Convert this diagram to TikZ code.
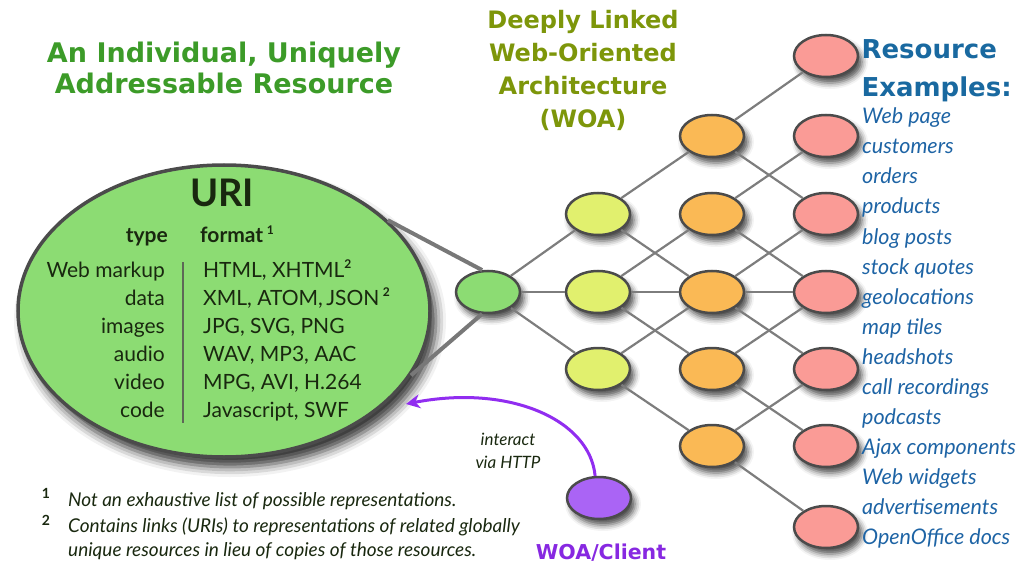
\documentclass[tikz,border=0pt]{standalone}
\usepackage{fontspec}
\setmainfont{Lato}
\newfontfamily\headfont{DejaVu Sans}
\usetikzlibrary{shapes.geometric,shadows.blur,arrows.meta}

\definecolor{uriGreen}{RGB}{140,220,115}
\definecolor{nodeYellow}{RGB}{225,240,110}
\definecolor{nodeOrange}{RGB}{250,185,85}
\definecolor{nodePink}{RGB}{250,155,150}
\definecolor{nodePurple}{RGB}{170,100,245}
\definecolor{rimGray}{RGB}{75,75,75}
\definecolor{linkGray}{RGB}{125,125,125}
\definecolor{coneGray}{RGB}{120,120,120}
\definecolor{titleGreen}{RGB}{60,155,40}
\definecolor{woaOlive}{RGB}{125,150,10}
\definecolor{resBlue}{RGB}{25,105,160}
\definecolor{listBlue}{RGB}{30,100,165}
\definecolor{inkDark}{RGB}{25,40,15}
\definecolor{arrowPurple}{RGB}{145,45,240}
\definecolor{clientPurple}{RGB}{135,40,225}

\newcommand{\supmark}[1]{\raisebox{9pt}{\fontsize{12}{12}\selectfont\bfseries #1}}

\tikzset{
  res/.style={ellipse, draw=rimGray, line width=2.5, minimum width=64,
    minimum height=42, inner sep=0,
    blur shadow={shadow xshift=4pt, shadow yshift=-6pt,
      shadow blur radius=6pt, shadow opacity=70}},
  link/.style={draw=linkGray, line width=2.2},
  cone/.style={draw=coneGray, line width=4},
  headtext/.style={font=\headfont\bfseries\fontsize{27}{31}\selectfont,
    text=titleGreen, align=center},
  woatext/.style={font=\headfont\bfseries\fontsize{24}{33}\selectfont,
    text=woaOlive, align=center},
  restitle/.style={font=\headfont\bfseries\fontsize{26}{38}\selectfont,
    text=resBlue, align=left, anchor=west},
  listitem/.style={font=\itshape\fontsize{21.5}{21.5}\selectfont,
    text=listBlue, anchor=base west, inner sep=0},
  typecell/.style={font=\fontsize{21}{21}\selectfont, text=inkDark,
    anchor=base east, inner sep=0},
  fmtcell/.style={font=\fontsize{21}{21}\selectfont, text=inkDark,
    anchor=base west, inner sep=0},
  footnote/.style={font=\itshape\fontsize{19}{19}\selectfont,
    text=inkDark, anchor=base west, inner sep=0},
}

\begin{document}
\begin{tikzpicture}[x=1pt, y=-1pt]
\useasboundingbox (0,0) rectangle (1028,564);

% big resource bubble and the small resource it magnifies
\node[ellipse, draw=rimGray, line width=3.5, fill=uriGreen,
  minimum width=412, minimum height=292, inner sep=0,
  blur shadow={shadow xshift=6pt, shadow yshift=-10pt,
    shadow blur radius=10pt, shadow opacity=80}] (uri) at (224,311) {};
\node[res, fill=uriGreen] (g) at (488,292) {};
\draw[cone] (uri.29) -- (g.105);
\draw[cone] (uri.-19) -- (g.-105);

% network of linked resources
\node[res, fill=nodeYellow] (y1) at (598,214) {};
\node[res, fill=nodeYellow] (y2) at (598,292) {};
\node[res, fill=nodeYellow] (y3) at (598,369) {};

\node[res, fill=nodeOrange] (o1) at (712,136) {};
\node[res, fill=nodeOrange] (o2) at (712,214) {};
\node[res, fill=nodeOrange] (o3) at (712,292) {};
\node[res, fill=nodeOrange] (o4) at (712,369) {};
\node[res, fill=nodeOrange] (o5) at (712,446) {};

\node[res, fill=nodePink] (p1) at (826,56) {};
\node[res, fill=nodePink] (p2) at (826,136) {};
\node[res, fill=nodePink] (p3) at (826,214) {};
\node[res, fill=nodePink] (p4) at (826,292) {};
\node[res, fill=nodePink] (p5) at (826,369) {};
\node[res, fill=nodePink] (p6) at (826,446) {};
\node[res, fill=nodePink] (p7) at (826,527) {};

\foreach \a/\b in {g/y1, g/y2, g/y3,
    y1/o1, y1/o3, y2/o2, y2/o3, y2/o4, y3/o3, y3/o5,
    o1/p1, o1/p3, o2/p2, o2/p4, o3/p3, o3/p4, o3/p5,
    o4/p4, o4/p6, o5/p5, o5/p7}
  \draw[link] (\a) -- (\b);

% client and its HTTP interaction
\node[res, fill=nodePurple] (cl) at (599,498) {};
\coordinate (tip) at (406,404);
\draw[arrowPurple, line width=3, -{Stealth[length=14, width=14]}]
  (cl.100) .. controls (590,420) and (510,384) .. (tip);
\node[font=\itshape\fontsize{17}{23}\selectfont, text=inkDark, align=center]
  (http) at (508,451) {interact\\via HTTP};
\node[font=\headfont\bfseries\fontsize{20.5}{20.5}\selectfont, text=clientPurple]
  (clname) at (601,553) {WOA/Client};

% titles
\node[headtext] (head) at (224,68) {An Individual, Uniquely\\Addressable Resource};
\node[woatext] (woa) at (583,70) {Deeply Linked\\Web-Oriented\\Architecture\\(WOA)};
\node[restitle] (rest) at (858,71) {Resource\\Examples:};

% examples of resources
\foreach \t [count=\i from 0] in {Web page, customers, orders, products,
    blog posts, stock quotes, geolocations, map tiles, headshots,
    call recordings, podcasts, Ajax components, Web widgets,
    advertisements, OpenOffice docs}
  \node[listitem] (ex\i) at (862,{124+30*\i}) {\t};

% contents of the URI bubble
\node[font=\bfseries\fontsize{38}{38}\selectfont, text=inkDark,
  anchor=base, inner sep=0] (urilabel) at (222,207) {URI};
\node[typecell, font=\bfseries\fontsize{21}{21}\selectfont] (typehd) at (168,243) {type};
\node[fmtcell, font=\bfseries\fontsize{21}{21}\selectfont] (fmthd) at (200,243) {format\,\supmark{1}};
\draw[draw=inkDark!70, line width=1.5] (183,262) coordinate (divtop)
  -- (183,423) coordinate (divbot);
\foreach \ty/\fm [count=\i from 0] in {
    Web markup/{HTML, XHTML\supmark{2}},
    data/{XML,\ ATOM,\,JSON\,\supmark{2}},
    images/{JPG, SVG, PNG},
    audio/{WAV, MP3, AAC},
    video/{MPG,\ AVI,\ H.264},
    code/{Javascript, SWF}} {
  \node[typecell] (ty\i) at (165,{277+28*\i}) {\ty};
  \node[fmtcell] (fm\i) at (203,{277+28*\i}) {\fm};
}

% footnotes
\node[font=\bfseries\fontsize{14}{14}\selectfont, text=inkDark] (n1) at (46,493) {1};
\node[font=\bfseries\fontsize{14}{14}\selectfont, text=inkDark] (n2) at (46,520) {2};
\node[footnote] (f1) at (68,506) {Not an exhaustive list of possible representations.};
\node[footnote] (f2) at (68,532) {Contains links (URIs) to representations of related globally};
\node[footnote] (f3) at (68,556) {unique resources in lieu of copies of those resources.};
\end{tikzpicture}
\end{document}
